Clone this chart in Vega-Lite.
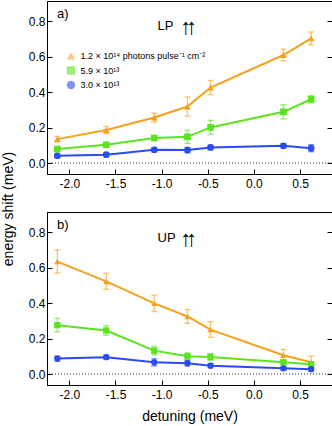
{
  "$schema": "https://vega.github.io/schema/vega-lite/v6.json",
  "autosize": {"type": "pad"},
  "padding": 0,
  "bounds": "flush",
  "spacing": 38,
  "config": {
    "font": "Liberation Sans",
    "view": {"stroke": "black", "strokeWidth": 1},
    "axis": {"grid": false, "domainColor": "black", "tickColor": "black", "labelColor": "black", "titleColor": "black", "labelFontSize": 12, "titleFontSize": 14, "titleFontWeight": "normal", "tickSize": -5, "labelFont": "Liberation Sans", "titleFont": "Liberation Sans"},
    "axisX": {"labelPadding": 9, "titlePadding": 9},
    "axisY": {"labelPadding": 7},
    "legend": {"orient": "none", "legendX": 19.5, "legendY": 50.5, "padding": 0, "labelFontSize": 9, "labelFont": "Liberation Sans", "labelColor": "black", "symbolSize": 70, "rowPadding": 4.5, "labelOffset": 5, "symbolStrokeWidth": 0}
  },
  "datasets": {
    "shifts": [
      {"panel": "LP", "series": "1.2 × 10¹⁴  photons pulse⁻¹ cm⁻²", "detuning": -2.13, "shift": 0.135, "err": 0.015},
      {"panel": "LP", "series": "1.2 × 10¹⁴  photons pulse⁻¹ cm⁻²", "detuning": -1.60, "shift": 0.186, "err": 0.02},
      {"panel": "LP", "series": "1.2 × 10¹⁴  photons pulse⁻¹ cm⁻²", "detuning": -1.08, "shift": 0.257, "err": 0.025},
      {"panel": "LP", "series": "1.2 × 10¹⁴  photons pulse⁻¹ cm⁻²", "detuning": -0.72, "shift": 0.319, "err": 0.054},
      {"panel": "LP", "series": "1.2 × 10¹⁴  photons pulse⁻¹ cm⁻²", "detuning": -0.47, "shift": 0.426, "err": 0.04},
      {"panel": "LP", "series": "1.2 × 10¹⁴  photons pulse⁻¹ cm⁻²", "detuning": 0.32, "shift": 0.610, "err": 0.033},
      {"panel": "LP", "series": "1.2 × 10¹⁴  photons pulse⁻¹ cm⁻²", "detuning": 0.62, "shift": 0.704, "err": 0.036},
      {"panel": "LP", "series": "5.9 × 10¹³", "detuning": -2.13, "shift": 0.079, "err": 0.01},
      {"panel": "LP", "series": "5.9 × 10¹³", "detuning": -1.60, "shift": 0.103, "err": 0.012},
      {"panel": "LP", "series": "5.9 × 10¹³", "detuning": -1.08, "shift": 0.141, "err": 0.012},
      {"panel": "LP", "series": "5.9 × 10¹³", "detuning": -0.72, "shift": 0.148, "err": 0.037},
      {"panel": "LP", "series": "5.9 × 10¹³", "detuning": -0.47, "shift": 0.201, "err": 0.04},
      {"panel": "LP", "series": "5.9 × 10¹³", "detuning": 0.32, "shift": 0.289, "err": 0.04},
      {"panel": "LP", "series": "5.9 × 10¹³", "detuning": 0.62, "shift": 0.360, "err": 0.02},
      {"panel": "LP", "series": "3.0 × 10¹³", "detuning": -2.13, "shift": 0.041, "err": 0.01},
      {"panel": "LP", "series": "3.0 × 10¹³", "detuning": -1.60, "shift": 0.047, "err": 0.01},
      {"panel": "LP", "series": "3.0 × 10¹³", "detuning": -1.08, "shift": 0.075, "err": 0.012},
      {"panel": "LP", "series": "3.0 × 10¹³", "detuning": -0.72, "shift": 0.073, "err": 0.015},
      {"panel": "LP", "series": "3.0 × 10¹³", "detuning": -0.47, "shift": 0.088, "err": 0.012},
      {"panel": "LP", "series": "3.0 × 10¹³", "detuning": 0.32, "shift": 0.097, "err": 0.012},
      {"panel": "LP", "series": "3.0 × 10¹³", "detuning": 0.62, "shift": 0.084, "err": 0.02},
      {"panel": "UP", "series": "1.2 × 10¹⁴  photons pulse⁻¹ cm⁻²", "detuning": -2.13, "shift": 0.635, "err": 0.065},
      {"panel": "UP", "series": "1.2 × 10¹⁴  photons pulse⁻¹ cm⁻²", "detuning": -1.60, "shift": 0.523, "err": 0.045},
      {"panel": "UP", "series": "1.2 × 10¹⁴  photons pulse⁻¹ cm⁻²", "detuning": -1.08, "shift": 0.399, "err": 0.046},
      {"panel": "UP", "series": "1.2 × 10¹⁴  photons pulse⁻¹ cm⁻²", "detuning": -0.72, "shift": 0.325, "err": 0.039},
      {"panel": "UP", "series": "1.2 × 10¹⁴  photons pulse⁻¹ cm⁻²", "detuning": -0.47, "shift": 0.251, "err": 0.044},
      {"panel": "UP", "series": "1.2 × 10¹⁴  photons pulse⁻¹ cm⁻²", "detuning": 0.32, "shift": 0.106, "err": 0.033},
      {"panel": "UP", "series": "1.2 × 10¹⁴  photons pulse⁻¹ cm⁻²", "detuning": 0.62, "shift": 0.066, "err": 0.034},
      {"panel": "UP", "series": "5.9 × 10¹³", "detuning": -2.13, "shift": 0.276, "err": 0.038},
      {"panel": "UP", "series": "5.9 × 10¹³", "detuning": -1.60, "shift": 0.246, "err": 0.027},
      {"panel": "UP", "series": "5.9 × 10¹³", "detuning": -1.08, "shift": 0.132, "err": 0.024},
      {"panel": "UP", "series": "5.9 × 10¹³", "detuning": -0.72, "shift": 0.100, "err": 0.02},
      {"panel": "UP", "series": "5.9 × 10¹³", "detuning": -0.47, "shift": 0.096, "err": 0.02},
      {"panel": "UP", "series": "5.9 × 10¹³", "detuning": 0.32, "shift": 0.066, "err": 0.012},
      {"panel": "UP", "series": "5.9 × 10¹³", "detuning": 0.62, "shift": 0.055, "err": 0.012},
      {"panel": "UP", "series": "3.0 × 10¹³", "detuning": -2.13, "shift": 0.087, "err": 0.015},
      {"panel": "UP", "series": "3.0 × 10¹³", "detuning": -1.60, "shift": 0.095, "err": 0.012},
      {"panel": "UP", "series": "3.0 × 10¹³", "detuning": -1.08, "shift": 0.066, "err": 0.02},
      {"panel": "UP", "series": "3.0 × 10¹³", "detuning": -0.72, "shift": 0.061, "err": 0.015},
      {"panel": "UP", "series": "3.0 × 10¹³", "detuning": -0.47, "shift": 0.047, "err": 0.012},
      {"panel": "UP", "series": "3.0 × 10¹³", "detuning": 0.32, "shift": 0.032, "err": 0.01},
      {"panel": "UP", "series": "3.0 × 10¹³", "detuning": 0.62, "shift": 0.027, "err": 0.01}
    ]
  },
  "vconcat": [
    {
      "width": 285,
      "height": 173,
      "resolve": {"axis": {"y": "independent"}},
      "layer": [
        {
          "data": {"values": [{}]},
          "mark": {"type": "rule", "strokeDash": [1, 2], "color": "#333333", "strokeWidth": 1},
          "encoding": {
            "y": {"datum": 0, "type": "quantitative", "scale": {"domain": [-0.062, 0.915], "nice": false, "zero": false}, "axis": {"orient": "right", "labels": false, "title": null, "values": [0, 0.2, 0.4, 0.6, 0.8], "domain": false}}
          }
        },
        {
          "data": {"name": "shifts"},
          "transform": [{"filter": "datum.panel == 'LP'"}],
          "layer": [
            {
              "mark": {"type": "errorbar", "ticks": true, "size": 6, "thickness": 1.4, "opacity": 0.6},
              "encoding": {
                "x": {"field": "detuning", "type": "quantitative", "scale": {"domain": [-2.242, 0.846], "nice": false, "zero": false}, "axis": {"title": null, "values": [-2, -1.5, -1, -0.5, 0, 0.5], "format": ".1f", "labelExpr": "replace(datum.label, '−', '-')"}},
                "y": {"field": "shift", "type": "quantitative", "scale": {"domain": [-0.062, 0.915], "nice": false, "zero": false}, "axis": {"values": [0, 0.2, 0.4, 0.6, 0.8], "format": ".1f", "title": "energy shift (meV)", "titleX": -35, "titleY": 207.5, "titleAngle": -90, "titleAlign": "center", "titleBaseline": "alphabetic"}},
                "yError": {"field": "err"},
                "color": {"field": "series", "type": "nominal", "title": null, "scale": {"domain": ["1.2 × 10¹⁴  photons pulse⁻¹ cm⁻²", "5.9 × 10¹³", "3.0 × 10¹³"], "range": ["#F7A01E", "#5CE320", "#2A4BF2"]}}
              }
            },
            {
              "mark": {"type": "line", "strokeWidth": 2},
              "encoding": {
                "x": {"field": "detuning", "type": "quantitative"},
                "y": {"field": "shift", "type": "quantitative"},
                "color": {"field": "series", "type": "nominal"}
              }
            },
            {
              "mark": {"type": "point", "filled": true, "opacity": 1, "size": 45},
              "encoding": {
                "x": {"field": "detuning", "type": "quantitative"},
                "y": {"field": "shift", "type": "quantitative"},
                "color": {"field": "series", "type": "nominal"},
                "shape": {"field": "series", "type": "nominal", "title": null, "scale": {"domain": ["1.2 × 10¹⁴  photons pulse⁻¹ cm⁻²", "5.9 × 10¹³", "3.0 × 10¹³"], "range": ["triangle-up", "square", "circle"]}}
              }
            },
            {
              "data": {"values": [{"label": "a)"}]},
              "mark": {"type": "text", "align": "left", "baseline": "middle", "fontSize": 13, "color": "black"},
              "encoding": {"x": {"datum": -2.133}, "y": {"datum": 0.84}, "text": {"field": "label"}}
            },
            {
              "data": {"values": [{"label": "LP"}]},
              "mark": {"type": "text", "align": "left", "baseline": "middle", "fontSize": 13, "color": "black"},
              "encoding": {"x": {"datum": -1.044}, "y": {"datum": 0.776}, "text": {"field": "label"}}
            },
            {
              "data": {"values": [{"label": "↑"}]},
              "mark": {"type": "text", "align": "center", "baseline": "middle", "fontSize": 22, "fontWeight": "bold", "color": "black"},
              "encoding": {"x": {"datum": -0.739}, "y": {"datum": 0.77}, "text": {"field": "label"}}
            },
            {
              "data": {"values": [{"label": "↑"}]},
              "mark": {"type": "text", "align": "center", "baseline": "middle", "fontSize": 22, "fontWeight": "bold", "color": "black"},
              "encoding": {"x": {"datum": -0.676}, "y": {"datum": 0.77}, "text": {"field": "label"}}
            }
          ]
        }
      ]
    },
    {
      "width": 285,
      "height": 173,
      "resolve": {"axis": {"y": "independent"}},
      "layer": [
        {
          "data": {"values": [{}]},
          "mark": {"type": "rule", "strokeDash": [1, 2], "color": "#333333", "strokeWidth": 1},
          "encoding": {
            "y": {"datum": 0, "type": "quantitative", "scale": {"domain": [-0.062, 0.915], "nice": false, "zero": false}, "axis": {"orient": "right", "labels": false, "title": null, "values": [0, 0.2, 0.4, 0.6, 0.8], "domain": false}}
          }
        },
        {
          "data": {"name": "shifts"},
          "transform": [{"filter": "datum.panel == 'UP'"}],
          "layer": [
            {
              "mark": {"type": "errorbar", "ticks": true, "size": 6, "thickness": 1.4, "opacity": 0.6},
              "encoding": {
                "x": {"field": "detuning", "type": "quantitative", "scale": {"domain": [-2.242, 0.846], "nice": false, "zero": false}, "axis": {"title": "detuning (meV)", "values": [-2, -1.5, -1, -0.5, 0, 0.5], "format": ".1f", "labelExpr": "replace(datum.label, '−', '-')"}},
                "y": {"field": "shift", "type": "quantitative", "scale": {"domain": [-0.062, 0.915], "nice": false, "zero": false}, "axis": {"values": [0, 0.2, 0.4, 0.6, 0.8], "format": ".1f", "title": null}},
                "yError": {"field": "err"},
                "color": {"field": "series", "type": "nominal", "title": null, "scale": {"domain": ["1.2 × 10¹⁴  photons pulse⁻¹ cm⁻²", "5.9 × 10¹³", "3.0 × 10¹³"], "range": ["#F7A01E", "#5CE320", "#2A4BF2"]}}
              }
            },
            {
              "mark": {"type": "line", "strokeWidth": 2},
              "encoding": {
                "x": {"field": "detuning", "type": "quantitative"},
                "y": {"field": "shift", "type": "quantitative"},
                "color": {"field": "series", "type": "nominal"}
              }
            },
            {
              "mark": {"type": "point", "filled": true, "opacity": 1, "size": 40},
              "encoding": {
                "x": {"field": "detuning", "type": "quantitative"},
                "y": {"field": "shift", "type": "quantitative"},
                "color": {"field": "series", "type": "nominal"},
                "shape": {"field": "series", "type": "nominal", "title": null, "scale": {"domain": ["1.2 × 10¹⁴  photons pulse⁻¹ cm⁻²", "5.9 × 10¹³", "3.0 × 10¹³"], "range": ["triangle-up", "square", "circle"]}}
              }
            },
            {
              "data": {"values": [{"label": "b)"}]},
              "mark": {"type": "text", "align": "left", "baseline": "middle", "fontSize": 13, "color": "black"},
              "encoding": {"x": {"datum": -2.133}, "y": {"datum": 0.842}, "text": {"field": "label"}}
            },
            {
              "data": {"values": [{"label": "UP"}]},
              "mark": {"type": "text", "align": "left", "baseline": "middle", "fontSize": 13, "color": "black"},
              "encoding": {"x": {"datum": -1.044}, "y": {"datum": 0.766}, "text": {"field": "label"}}
            },
            {
              "data": {"values": [{"label": "↑"}]},
              "mark": {"type": "text", "align": "center", "baseline": "middle", "fontSize": 22, "fontWeight": "bold", "color": "black"},
              "encoding": {"x": {"datum": -0.739}, "y": {"datum": 0.76}, "text": {"field": "label"}}
            },
            {
              "data": {"values": [{"label": "↑"}]},
              "mark": {"type": "text", "align": "center", "baseline": "middle", "fontSize": 22, "fontWeight": "bold", "color": "black"},
              "encoding": {"x": {"datum": -0.676}, "y": {"datum": 0.76}, "text": {"field": "label"}}
            }
          ]
        }
      ]
    }
  ]
}
